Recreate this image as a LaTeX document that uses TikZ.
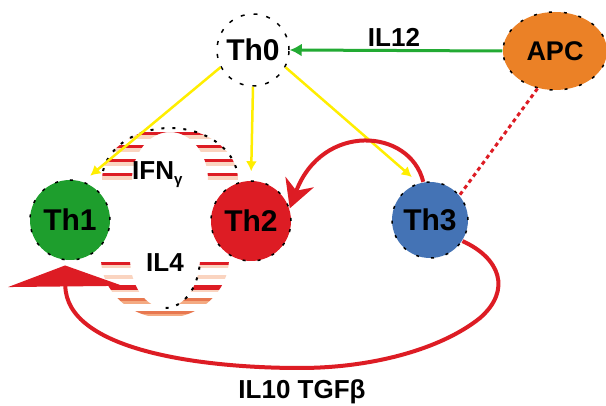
\documentclass[tikz,border=0pt]{standalone}
\usepackage{fontspec}
\setmainfont{Liberation Sans}
\usetikzlibrary{arrows.meta,shapes.geometric}

\definecolor{thgreen}{RGB}{30,158,45}
\definecolor{thred}{RGB}{221,28,36}
\definecolor{thblue}{RGB}{68,115,181}
\definecolor{apcorange}{RGB}{235,129,38}
\definecolor{linkgreen}{RGB}{34,170,51}
\definecolor{cyellow}{RGB}{255,238,0}
\definecolor{stripepeach}{RGB}{250,212,192}
\definecolor{stripeorange}{RGB}{232,120,80}
\definecolor{stripelight}{RGB}{244,170,130}

\begin{document}
\begin{tikzpicture}[x=1pt,y=-1pt,
  cell/.style={circle, inner sep=0pt, minimum size=80pt, draw=black,
    line width=1.5pt, dash pattern=on 3pt off 12pt,
    font=\fontsize{30}{36}\selectfont\bfseries},
  lab/.style={inner sep=0pt, anchor=base, font=\fontsize{26}{30}\selectfont\bfseries},
  ylw/.style={draw=cyellow, line width=2.5pt, -{Latex[length=10pt,width=11pt]}, shorten >=9pt},
  grn/.style={draw=linkgreen, line width=3pt, -{Latex[length=12pt,width=13pt]}},
  redarc/.style={draw=thred, line width=4pt},
  dotline/.style={draw=black, line width=2pt, dash pattern=on 3pt off 8pt}]

\fill[white] (0,0) rectangle (606,406);
\useasboundingbox (0,0) rectangle (606,406);

% hatched cytokine band above (IFN-gamma)
\begin{scope}
  \clip (102,180) arc[start angle=180,end angle=360,x radius=68,y radius=52]
        -- (208,180) arc[start angle=360,end angle=180,x radius=38,y radius=48] -- cycle;
  \foreach \y in {132,145,159,173} {
    \fill[thred] (90,\y) rectangle (250,\y+3.5);
    \fill[stripepeach] (90,\y+3.5) rectangle (250,\y+7);
  }
\end{scope}
\draw[dotline] (103,171) arc[start angle=190,end angle=350,x radius=68,y radius=52];

% hatched cytokine band below (IL4)
\begin{scope}
  \clip (101,258) arc[start angle=180,end angle=0,x radius=64,y radius=60]
        -- (200,258) arc[start angle=0,end angle=180,x radius=35,y radius=50] -- cycle;
  \fill[thred] (90,262) rectangle (240,265);
  \fill[stripepeach] (90,265) rectangle (240,268);
  \fill[stripepeach] (90,275) rectangle (240,279);
  \fill[thred] (90,285) rectangle (240,290);
  \fill[stripepeach] (90,290) rectangle (240,292.5);
  \fill[stripeorange] (90,298) rectangle (240,301);
  \fill[stripelight] (90,301) rectangle (240,304);
  \fill[stripeorange] (90,311) rectangle (240,314);
  \fill[stripelight] (90,314) rectangle (240,316);
\end{scope}
\draw[dotline] (199.5,266.7) arc[start angle=10,end angle=100,x radius=35,y radius=50];

% cells
\node[cell, fill=white, minimum size=72pt, dash pattern=on 4pt off 9pt] (Th0) at (253,50) {Th0};
\node[cell, fill=thgreen] (Th1) at (70,220) {Th1};
\node[cell, fill=thred] (Th2) at (251,221) {Th2};
\node[cell, fill=thblue, minimum size=76pt] (Th3) at (430,220) {Th3};
\node[cell, ellipse, fill=apcorange, minimum width=104pt, minimum height=78pt,
      font=\fontsize{27}{32}\selectfont\bfseries] (APC) at (555,51) {APC};

% labels
\node[lab] (lIL12) at (394,47) {IL12};
\node[lab, anchor=base west] (lIFN) at (132,180) {IFN\raisebox{-0.3ex}{\fontsize{15}{15}\selectfont γ}};
\node[lab] (lIL4) at (165,272) {IL4};
\node[lab] (lIL10) at (302,399) {IL10 TGFβ};

% differentiation signals
\draw[ylw] (Th0.208) -- (Th1.71);
\draw[ylw] (Th0.south) -- (Th2.north);
\draw[ylw] (Th0.-28) -- (Th3.107);
\draw[grn] (APC.west) -- (Th0.east);
\draw[draw=thred, line width=3pt, dash pattern=on 4pt off 3.5pt] (APC.245) -- (Th3.40);

% feedback from Th3
\draw[redarc, -{Stealth[length=28pt,width=30pt]}]
  (Th3.100) .. controls (410,128) and (322,122) .. (Th2.18);
\draw[redarc, -{Triangle[width=114pt,length=21pt]}, shorten >=5pt]
  (Th3.-33) .. controls (500,258) and (512,290) .. (480,318)
  .. controls (440,350) and (370,368) .. (300,368)
  .. controls (200,368) and (66,350) .. (Th1.-97);

\end{tikzpicture}
\end{document}
